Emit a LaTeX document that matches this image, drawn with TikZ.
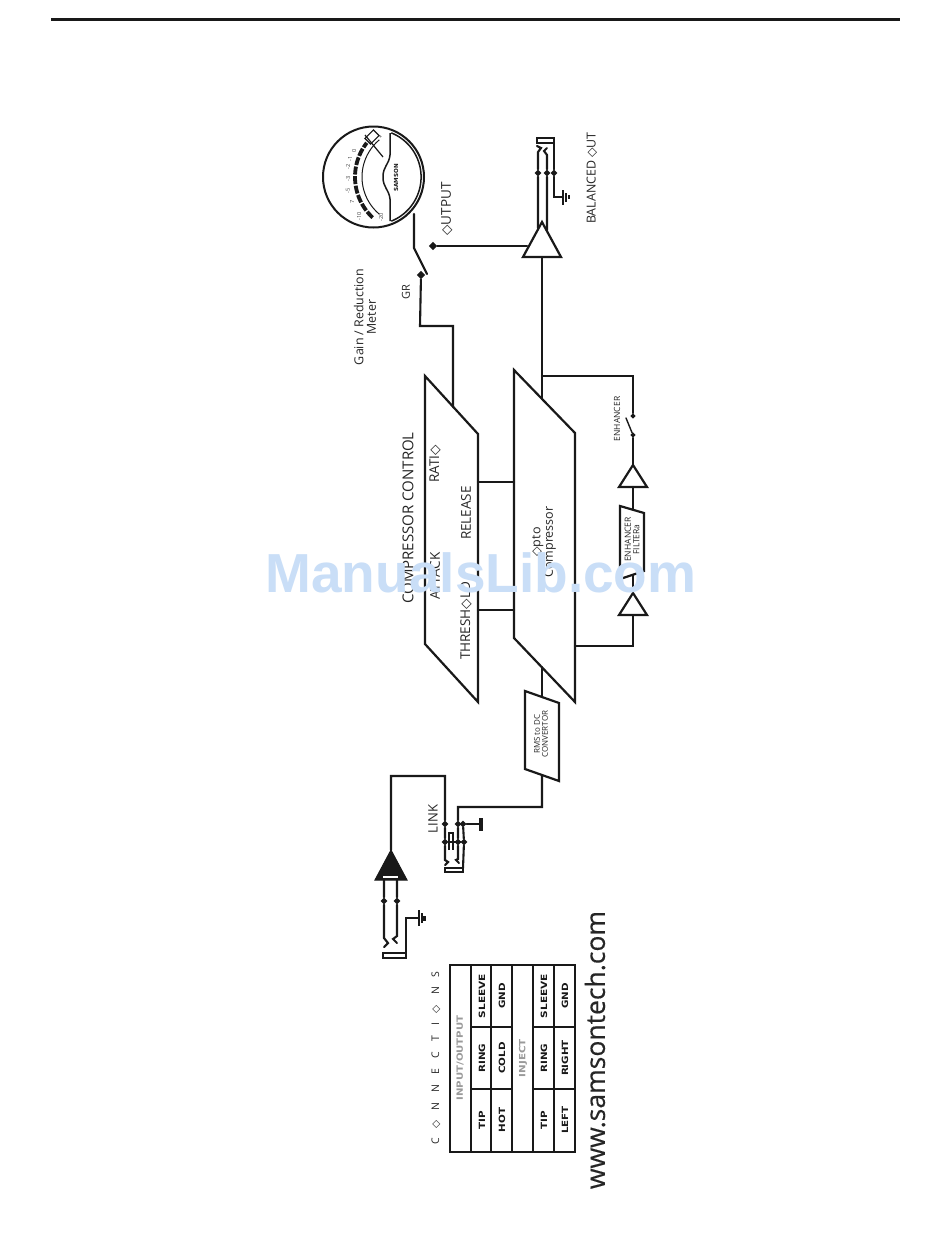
\documentclass[tikz,border=0pt]{standalone}
\usepackage{fontspec}
\usetikzlibrary{shapes.geometric}
\setmainfont{Open Sans}
\newfontfamily\djvu{DejaVu Sans}
\newfontfamily\libb{Liberation Sans}[BoldFont={Liberation Sans Bold}]
\newfontfamily\webfont{Open Sans}[FakeBold=0.35]
\newcommand{\fs}[1]{\fontsize{#1}{#1}\selectfont}
\newcommand{\dm}{{\djvu\scalebox{1}{◇}}}
\newcommand{\gp}{\hspace{10pt}}
\definecolor{wm}{HTML}{C9DEF7}
\definecolor{tabgrey}{HTML}{9A9A9A}
\tikzset{
  wire/.style={line width=2.1pt,line cap=round,line join=miter,black!90},
  thinwire/.style={line width=1.4pt,line cap=round,black!90},
  block/.style={line width=2.2pt,line join=miter,black!90},
  tabline/.style={line width=2.6pt,line join=miter,black!90},
  gbar/.style={line width=2.5pt,black!90},
  jdot/.style={diamond,fill=black!90,inner sep=0pt,minimum size=7pt},
  sdot/.style={diamond,fill=black!90,inner sep=0pt,minimum size=5.5pt},
  pdot/.style={diamond,fill=black!90,inner sep=0pt,minimum size=8.5pt},
  lab/.style={rotate=90,inner sep=0pt,align=center,text=black!85},
  lab13/.style={lab,font=\fs{13.5}},
  lab9/.style={lab,font=\fs{8.5},align=center},
  cell/.style={rotate=90,inner sep=0pt,text=black!90,font=\djvu\bfseries\fs{8.6}},
  head/.style={rotate=90,inner sep=0pt,text=tabgrey,font=\djvu\bfseries\fs{8.6}},
  mtick/.style={rotate=90,inner sep=0pt,font=\fs{5.6},text=black!75},
}
\begin{document}
\begin{tikzpicture}[x=1pt,y=-1pt]
\useasboundingbox (0,0) rectangle (950,1254);
\fill[white] (0,0) rectangle (950,1254);
% top rule
\coordinate (ruleL) at (51,19); \coordinate (ruleR) at (900,19);
\draw[line width=3pt,black!90] (ruleL) -- (ruleR);

% ---- meter
\node[circle,draw=black!90,line width=2pt,minimum size=101pt,inner sep=0pt] (meter) at (373.5,177) {};
\draw[line width=1.5pt,black!90] plot[domain=-68:68,samples=40] ({373.5+47.6*cos(\x)},{177+47.6*sin(\x)});
\draw[line width=1.5pt,black!90] (390,133) -- (390,155) .. controls (389,165) and (383,166) .. (383,177) .. controls (383,188) and (389,189) .. (390,199) -- (390,221);
\draw[line width=3.8pt,black!90,dash pattern=on 8pt off 1.6pt] plot[domain=133:218,samples=40] ({410.5+55.5*cos(\x)},{177+55.5*sin(\x)});
\draw[line width=1pt,black!90] plot[domain=130:230,samples=40] ({410.5+48.5*cos(\x)},{177+48.5*sin(\x)});
\draw[line width=1.1pt,fill=white,draw=black!90,rotate around={45:(372,137)}] (366,133) rectangle (378,141);
\draw[line width=1.2pt,black!90] (365,135) -- (383,157);
\node[rotate=90,inner sep=0pt,font=\djvu\bfseries\fs{5.6},text=black!90] (samson) at (396,178) {SAMSON};
\node[mtick] (m1) at (359,216) {-10};
\node[mtick] (m2) at (352,202) {7};
\node[mtick] (m3) at (348,191) {-5};
\node[mtick] (m4) at (348,179) {-3};
\node[mtick] (m5) at (348,167) {-2};
\node[mtick] (m6) at (350,159) {-1};
\node[mtick] (m7) at (354,151) {0};
\node[mtick] (m8) at (381,137) {+};
\node[mtick] (m9) at (381,217) {-20};

% ---- meter switch
\coordinate (swTop) at (414,214);
\coordinate (swKnee) at (414,248);
\coordinate (swEnd) at (427,274);
\node[pdot] (gr) at (421,275) {};
\node[pdot] (outd) at (433,246) {};
\draw[wire] (swTop) -- (swKnee) -- (swEnd);

% ---- output amp
\coordinate (oa1) at (542,222); \coordinate (oa2) at (523,257); \coordinate (oa3) at (561,257);
\draw[block] (oa1) -- (oa2) -- (oa3) -- cycle;
\coordinate (oaIn) at (527,246);
\coordinate (oaBase) at (542,258);
\draw[wire] (outd) -- (oaIn);

% ---- balanced out jack
\draw[wire] (537,138) rectangle (554,143);
\node[jdot] (bo1) at (538,173) {};
\node[jdot] (bo2) at (547,173) {};
\node[jdot] (bo3) at (554,173) {};
\coordinate (oaT1) at (538,228); \coordinate (oaT2) at (547,230);
\coordinate (bc1) at (538,152); \coordinate (bc2) at (547,155);
\draw[wire] (oaT1) -- (bo1) -- (bc1) -- (541,148) -- (537,146);
\draw[wire] (oaT2) -- (bo2) -- (bc2) -- (544,151) -- (547,148);
\coordinate (bg) at (563,197);
\draw[wire] (554,143) -- (bo3) -- (554,197) -- (bg);
\draw[gbar] (563,190) -- (563,205);
\draw[gbar] (566,193) -- (566,202);
\draw[gbar] (569,195) -- (569,199);

% ---- trapezoids
\draw[block] (425,376) -- (478,434) -- (478,702) -- (425,644) -- cycle;
\draw[block] (514,370) -- (575,433) -- (575,702) -- (514,638) -- cycle;
\coordinate (ccTop) at (453,407); \coordinate (ccBend) at (453,326); \coordinate (grBend) at (420,326);
\draw[wire] (gr) -- (grBend) -- (ccBend) -- (ccTop);
\coordinate (ocTop) at (542,399);
\draw[wire] (oaBase) -- (ocTop);
\coordinate (l1a) at (478,482); \coordinate (l1b) at (514,482);
\coordinate (l2a) at (478,610); \coordinate (l2b) at (514,610);
\draw[wire] (l1a) -- (l1b);
\draw[wire] (l2a) -- (l2b);

% ---- enhancer loop
\coordinate (enT) at (542,376); \coordinate (enB) at (633,376);
\node[sdot] (en1) at (633,416) {};
\node[sdot] (en2) at (633,435) {};
\draw[wire] (enT) -- (enB) -- (en1);
\draw[thinwire] (626,418) -- (en2);
\coordinate (t1a) at (633,465); \coordinate (t1b) at (619,487); \coordinate (t1c) at (647,487);
\draw[block] (t1a) -- (t1b) -- (t1c) -- cycle;
\draw[wire] (en2) -- (t1a);
\coordinate (f1) at (620,506); \coordinate (f2) at (644,513); \coordinate (f3) at (644,571); \coordinate (f4) at (620,579);
\draw[block] (f1) -- (f2) -- (f3) -- (f4) -- cycle;
\coordinate (fTop) at (633,509.5); \coordinate (fBot) at (633,575);
\draw[wire] (633,487) -- (fTop);
\coordinate (t2a) at (633,593); \coordinate (t2b) at (619,615); \coordinate (t2c) at (647,615);
\draw[block] (t2a) -- (t2b) -- (t2c) -- cycle;
\draw[wire] (fBot) -- (t2a);
\coordinate (lpA) at (633,616); \coordinate (lpB) at (633,646); \coordinate (lpC) at (575,646);
\draw[wire] (lpA) -- (lpB) -- (lpC);

% ---- RMS box
\coordinate (r1) at (525,691); \coordinate (r2) at (559,703); \coordinate (r3) at (559,781); \coordinate (r4) at (525,769);
\draw[block] (r1) -- (r2) -- (r3) -- (r4) -- cycle;
\coordinate (rT) at (542,697); \coordinate (rTe) at (542,667);
\draw[wire] (rTe) -- (rT);
\coordinate (rB) at (542,775); \coordinate (rC) at (542,807); \coordinate (rD) at (458,807);

% ---- link jack
\node[jdot] (lk1) at (445,824) {};
\node[jdot] (lk2) at (458,824) {};
\node[jdot] (lk3) at (463,824) {};
\node[jdot] (lk4) at (445,842) {};
\node[jdot] (lk5) at (458,842) {};
\node[jdot] (lk6) at (464,842) {};
\draw[wire] (rB) -- (rC) -- (rD) -- (lk2) -- (lk5) -- (458,859) -- (456,860) -- (459,863);
\draw[wire] (lk4) -- (lk6);
\draw[wire] (445,868) rectangle (463,872);
\draw[wire] (463,868) -- (lk6) -- (lk3);
\draw[wire] (lk3) -- (480,824);
\draw[line width=3.5pt,black!90] (481,818) -- (481,831);
\draw[line width=1.5pt,black!90] (449,850) -- (449,833) -- (453,833) -- (453,850);

% ---- input amp
\coordinate (ia1) at (391,850); \coordinate (ia2) at (375,880); \coordinate (ia3) at (407,880);
\draw[line width=1pt,fill=black!90,black!90] (ia1) -- (ia2) -- (ia3) -- cycle;
\fill[white] (383,875.5) rectangle (398,877.5);
\coordinate (iaA) at (391,776); \coordinate (iaB) at (445,776);
\draw[wire] (ia1) -- (iaA) -- (iaB) -- (lk1) -- (lk4) -- (445,860) -- (448,862) -- (445,865);

% ---- input jack
\node[jdot] (ij1) at (384,901) {};
\node[jdot] (ij2) at (397,901) {};
\coordinate (ia4) at (384,880); \coordinate (ia5) at (397,880);
\draw[wire] (ia4) -- (ij1) -- (384,938) -- (388,943) -- (384,947);
\draw[wire] (ia5) -- (ij2) -- (397,936) -- (393,939) -- (397,943);
\draw[wire] (383,953) rectangle (406,958);
\draw[wire] (406,953) -- (406,918) -- (418,918);
\draw[gbar] (419,910) -- (419,926);
\draw[gbar] (422,913) -- (422,923);
\draw[gbar] (424.5,916) -- (424.5,921);

% ---- table
\draw[tabline] (450,965) rectangle (575,1152);
\foreach \x in {471,491,512,533,554} \draw[tabline] (\x,965) -- (\x,1152);
\foreach \y in {1027,1089} {\draw[tabline] (471,\y) -- (512,\y); \draw[tabline] (533,\y) -- (575,\y);}
\node[head] (tH1) at (460,1058) {\scalebox{1.18}[1]{INPUT/OUTPUT}};
\node[head] (tH2) at (523,1058) {\scalebox{1.2}[1]{INJECT}};
\node[cell] (c1) at (482,1120) {\scalebox{1.2}[1]{TIP}};
\node[cell] (c2) at (482,1058) {\scalebox{1.2}[1]{RING}};
\node[cell] (c3) at (482,996) {\scalebox{1.23}[1]{SLEEVE}};
\node[cell] (c4) at (502,1120) {\scalebox{1.2}[1]{HOT}};
\node[cell] (c5) at (502,1058) {\scalebox{1.2}[1]{COLD}};
\node[cell] (c6) at (502,996) {\scalebox{1.2}[1]{GND}};
\node[cell] (c7) at (544,1120) {\scalebox{1.2}[1]{TIP}};
\node[cell] (c8) at (544,1058) {\scalebox{1.2}[1]{RING}};
\node[cell] (c9) at (544,996) {\scalebox{1.23}[1]{SLEEVE}};
\node[cell] (c10) at (565,1120) {\scalebox{1.2}[1]{LEFT}};
\node[cell] (c11) at (565,1058) {\scalebox{1.2}[1]{RIGHT}};
\node[cell] (c12) at (565,996) {\scalebox{1.2}[1]{GND}};
\node[lab,font=\fs{10.5}] (conn) at (436,1058) {C\gp\dm\gp N\gp N\gp E\gp C\gp T\gp I\gp\dm\gp N\gp S};
\node[lab,font=\webfont\fs{26.5}] (web) at (595,1050) {www.samsontech.com};

% ---- labels
\node[lab13] (tOut) at (447,209) {\dm UTPUT};
\node[lab,font=\fs{12.4}] (tBal) at (592,178) {BALANCED \dm UT};
\node[lab,font=\fs{11}] (tGR) at (406,292) {GR};
\node[lab,font=\fs{12.4},align=center] (tGain) at (365,317) {Gain / Reduction\\Meter};
\node[lab,font=\fs{15}] (tCC) at (408,518) {COMPRESSOR CONTROL};
\node[lab13] (tRatio) at (435,464) {RATI\dm};
\node[lab13] (tRel) at (466,513) {RELEASE};
\node[lab13] (tAtk) at (435,576) {ATTACK};
\node[lab13] (tThr) at (466,621) {THRESH\dm LD};
\node[lab,font=\fs{12.5},align=center] (tOpto) at (544,542) {\dm pto\\Compressor};
\node[lab9] (tEnh) at (617,419) {ENHANCER};
\node[lab9,align=center] (tFilt) at (632,539.5) {ENHANCER\\FILTERa};
\node[lab,font=\fs{8},align=center] (tRms) at (541,734) {RMS to DC\\CONVERTOR};
\node[lab,font=\fs{13}] (tLink) at (433,819) {LINK};

% ---- watermark
\node[inner sep=0pt,font=\libb\bfseries\fs{55},text=wm,anchor=base] (wmark) at (481,592) {ManualsLib.com};
\end{tikzpicture}
\end{document}
